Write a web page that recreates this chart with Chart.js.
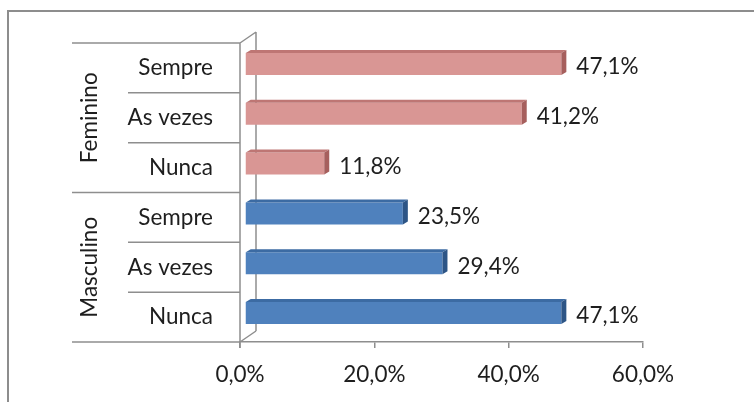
<!DOCTYPE html>
<html><head><meta charset="utf-8">
<script src="https://cdn.jsdelivr.net/npm/chart.js@4/dist/chart.umd.min.js"></script>
<style>
html,body{margin:0;padding:0;background:#fff;}
#wrap{position:relative;width:754px;height:402px;overflow:hidden;}
#frame{position:absolute;left:7px;top:10px;width:800px;height:500px;border-left:2px solid #8d8d8d;border-top:2px solid #8d8d8d;}
canvas{position:absolute;left:0;top:0;}
</style></head><body>
<div id="wrap"><div id="frame"></div><canvas id="c" width="754" height="402"></canvas></div>
<script>
// ---- data ----
const groups = ['Feminino', 'Masculino'];
const answers = ['Sempre', 'As vezes', 'Nunca'];
const feminino = [47.1, 41.2, 11.8];
const masculino = [23.5, 29.4, 47.1];
const xMin = 0, xMax = 60, xStep = 20;

// ---- styling ----
const FONT = 'Lato, "Open Sans", sans-serif';
const FS = 22.5;
const TXT = '#1e1e1e';
const AX = '#8e8e8e';
const palette = {
  Feminino: {front: '#D99694', top: '#BE7674', side: '#A65F5D'},
  Masculino: {front: '#4F81BD', top: '#3C6BA3', side: '#2D5586'}
};
const shift = {dx: 5, dy: -4};
const face = {dx: 5, dy: -3};
const wall = {dx: 16, dy: -11};

const labels = [...answers, ...answers];
const femData = [...feminino, ...masculino.map(() => null)];
const mascData = [...feminino.map(() => null), ...masculino];
const fmt = v => Number(v).toFixed(1).replace('.', ',') + '%';

const wallsPlugin = {
  id: 'walls',
  beforeDatasetsDraw(chart) {
    const {ctx, chartArea: a, scales: {y}} = chart;
    ctx.save();
    ctx.strokeStyle = AX; ctx.lineWidth = 1.5;
    const row = y.getPixelForValue(1) - y.getPixelForValue(0);
    const n = labels.length;
    ctx.beginPath();
    ctx.moveTo(a.left, a.top); ctx.lineTo(a.left, a.bottom + 6);
    ctx.moveTo(a.left + wall.dx, a.top + wall.dy); ctx.lineTo(a.left + wall.dx, a.bottom + wall.dy);
    ctx.moveTo(a.left, a.top); ctx.lineTo(a.left + wall.dx, a.top + wall.dy);
    ctx.moveTo(a.left, a.bottom); ctx.lineTo(a.left + wall.dx, a.bottom + wall.dy);
    for (let i = 0; i <= n; i++) {
      const yy = y.getPixelForValue(0) - row / 2 + i * row;
      const isGroup = i % answers.length === 0;
      ctx.moveTo(isGroup ? 72 : 128, yy); ctx.lineTo(a.left, yy);
    }
    ctx.stroke();
    ctx.fillStyle = TXT;
    ctx.font = FS + 'px ' + FONT;
    ctx.textAlign = 'center'; ctx.textBaseline = 'middle';
    groups.forEach((g, gi) => {
      const y0 = y.getPixelForValue(gi * answers.length) - row / 2;
      const cy = y0 + row * answers.length / 2;
      ctx.save();
      ctx.translate(90, cy);
      ctx.rotate(-Math.PI / 2);
      ctx.fillText(g, 0, 0);
      ctx.restore();
    });
    ctx.restore();
    ctx.save();
    ctx.translate(shift.dx, shift.dy);
  },
  afterDatasetsDraw(chart) {
    const {ctx} = chart;
    chart.data.datasets.forEach((ds, di) => {
      const meta = chart.getDatasetMeta(di);
      const col = palette[ds.label];
      meta.data.forEach((el, i) => {
        if (ds.data[i] == null) return;
        const {x, y, base, height} = el.getProps(['x', 'y', 'base', 'height'], true);
        const t = y - height / 2, b = y + height / 2;
        ctx.fillStyle = col.top;
        ctx.beginPath();
        ctx.moveTo(base, t); ctx.lineTo(x, t); ctx.lineTo(x + face.dx, t + face.dy); ctx.lineTo(base + face.dx, t + face.dy);
        ctx.closePath(); ctx.fill();
        ctx.fillStyle = col.side;
        ctx.beginPath();
        ctx.moveTo(x, t); ctx.lineTo(x + face.dx, t + face.dy); ctx.lineTo(x + face.dx, b + face.dy); ctx.lineTo(x, b);
        ctx.closePath(); ctx.fill();
      });
    });
    ctx.restore();
    ctx.save();
    ctx.fillStyle = TXT;
    ctx.font = FS + 'px ' + FONT;
    ctx.textAlign = 'left'; ctx.textBaseline = 'middle';
    chart.data.datasets.forEach((ds, di) => {
      const meta = chart.getDatasetMeta(di);
      meta.data.forEach((el, i) => {
        if (ds.data[i] == null) return;
        ctx.fillText(fmt(ds.data[i]), el.x + shift.dx + face.dx + 10, el.y - 1);
      });
    });
    ctx.restore();
  }
};

new Chart(document.getElementById('c'), {
  type: 'bar',
  data: {
    labels,
    datasets: [
      {label: 'Feminino', data: femData, backgroundColor: palette.Feminino.front},
      {label: 'Masculino', data: mascData, backgroundColor: palette.Masculino.front}
    ]
  },
  options: {
    indexAxis: 'y',
    responsive: false,
    animation: false,
    events: [],
    categoryPercentage: 1,
    barPercentage: 0.44,
    layout: {padding: {left: 0, right: 111, top: 43, bottom: 0}},
    plugins: {legend: {display: false}, tooltip: {enabled: false}},
    scales: {
      y: {
        stacked: true,
        grid: {display: false, drawTicks: false},
        border: {display: false},
        ticks: {font: {family: FONT, size: FS}, color: TXT, padding: 27},
        afterFit(s) { s.width = 240; }
      },
      x: {
        stacked: true,
        min: xMin, max: xMax,
        grid: {drawOnChartArea: false, drawTicks: true, tickLength: 6, color: AX, lineWidth: 1.5},
        border: {display: true, color: AX, width: 1.5},
        ticks: {stepSize: xStep, font: {family: FONT, size: FS}, color: TXT, padding: 13, callback: v => fmt(v)},
        afterFit(s) { s.height = 60; }
      }
    }
  },
  plugins: [wallsPlugin]
});
</script>
</body></html>
